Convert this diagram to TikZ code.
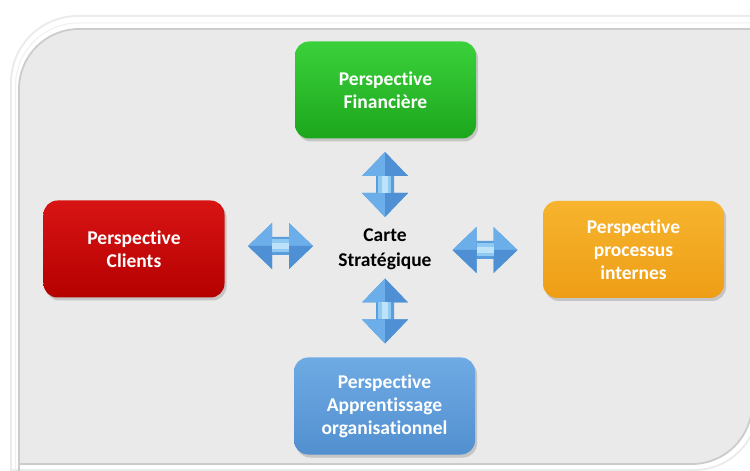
\documentclass[tikz,border=0pt]{standalone}
\usepackage{fontspec}
\setmainfont{Carlito}[Ligatures={NoCommon}]
\usetikzlibrary{shadows}
\definecolor{fondgris}{HTML}{EAEAEA}
\definecolor{vertH}{HTML}{3BD13B}
\definecolor{vertB}{HTML}{1CA61C}
\definecolor{rougeH}{HTML}{D81414}
\definecolor{rougeB}{HTML}{B50000}
\definecolor{orangeH}{HTML}{F7B42E}
\definecolor{orangeB}{HTML}{EE9E16}
\definecolor{bleuH}{HTML}{6EABE4}
\definecolor{bleuB}{HTML}{528FCF}
\definecolor{flMid}{HTML}{5A9DDC}
\definecolor{flClair}{HTML}{6CAEE9}
\definecolor{flSombre}{HTML}{4E90D3}
\definecolor{flReflet}{HTML}{BCE3F9}
\definecolor{flBleuDoux}{HTML}{90C9F2}
\begin{document}
\begin{tikzpicture}
[x=1bp,y=-1bp,
persp/.style={rounded corners=14bp,minimum width=181bp,minimum height=97bp,
 align=center,text=white,font=\fontsize{19.5bp}{23bp}\selectfont\bfseries,
 drop shadow={opacity=0.35,shadow xshift=2bp,shadow yshift=-3bp}},
fleche/.pic={
 \fill[flMid] (-32.5,0) -- (-8.5,-23) -- (-8.5,-9) -- (8.5,-9) -- (8.5,-23) -- (32.5,0)
  -- (8.5,23) -- (8.5,9) -- (-8.5,9) -- (-8.5,23) -- cycle;
 \fill[flClair] (-32.5,0) -- (-8.5,-23) -- (-8.5,0) -- cycle;
 \fill[flClair] (32.5,0) -- (8.5,-23) -- (8.5,0) -- cycle;
 \fill[flSombre] (-32.5,0) -- (-8.5,23) -- (-8.5,0) -- cycle;
 \fill[flSombre] (32.5,0) -- (8.5,23) -- (8.5,0) -- cycle;
 \fill[flBleuDoux] (-8.5,-7) rectangle (8.5,-3);
 \fill[flReflet] (-8.5,-3) rectangle (8.5,3);
 \fill[flBleuDoux] (-8.5,3) rectangle (8.5,6);
}]
\useasboundingbox (0,0) rectangle (750,471);
\begin{scope}
\clip (0,0) rectangle (750,471);
\fill[white] (0,0) rectangle (750,471);
\draw[line width=4bp,black!8] (12,480) -- (12,83) arc[start angle=180,end angle=270,radius=66]
 -- (757,17) -- (757,406) arc[start angle=0,end angle=90,radius=63] -- (12,469) -- cycle;
\fill[white] (12,480) -- (12,83) arc[start angle=180,end angle=270,radius=66]
 -- (757,17) -- (757,406) arc[start angle=0,end angle=90,radius=63] -- (12,469) -- cycle;
\draw[black!6,line width=1bp] (15.5,480) -- (15.5,86) arc[start angle=180,end angle=270,radius=63]
 -- (757,23);
\draw[black!20,line width=1.8bp,fill=fondgris] (19,480) -- (19,89) arc[start angle=180,end angle=270,radius=60]
 -- (752,29) -- (752,404) arc[start angle=0,end angle=90,radius=60] -- (19,464) -- cycle;
\end{scope}

\node[persp,top color=vertH,bottom color=vertB] (fin) at (385.5,90) {Perspective\\Financière};
\node[persp,top color=rougeH,bottom color=rougeB] (cli) at (134,249) {Perspective\\Clients};
\node[persp,top color=orangeH,bottom color=orangeB] (proc) at (633.5,249.5) {Perspective\\processus\\internes};
\node[persp,top color=bleuH,bottom color=bleuB] (app) at (384.5,406) {Perspective\\Apprentissage\\organisationnel};
\node[align=center,font=\fontsize{19.5bp}{25bp}\selectfont\bfseries] (carte) at (385,249) {Carte\\Stratégique};

\pic[rotate=90] (flH) at (385,184.5) {fleche};
\pic[rotate=90] (flB) at (385,311) {fleche};
\pic (flG) at (280.5,246) {fleche};
\pic (flD) at (485,250) {fleche};
\end{tikzpicture}
\end{document}
